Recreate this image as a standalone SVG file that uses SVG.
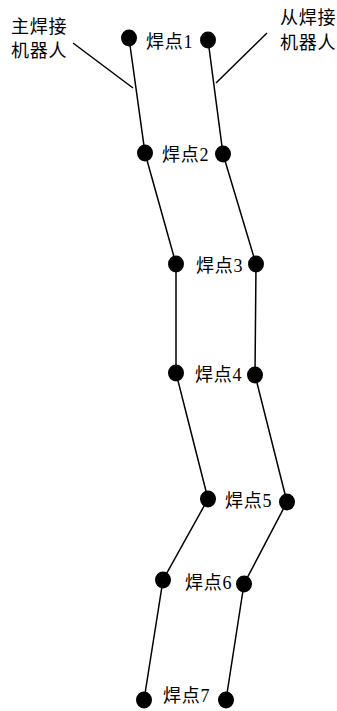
<svg xmlns="http://www.w3.org/2000/svg" width="337" height="711" viewBox="0 0 337 711">
<style>
.bg{fill:#fff}
.ln{stroke:#000;stroke-width:1.5;fill:none}
.dot{fill:#000}
.t{font-family:"Liberation Serif","Noto Sans CJK SC",serif;font-size:18px;fill:#000;letter-spacing:0.8px}
</style>
<rect class="bg" x="0" y="0" width="337" height="711"/>
<g id="connectors">
<polyline class="ln" points="129,38 145,153 176,264 176,373 208,499 163,580 144,700"/>
<polyline class="ln" points="208,40 223,154 256,264 255,375 287,502 244,584 226,700"/>
<line class="ln" x1="73" y1="43" x2="133" y2="88"/>
<line class="ln" x1="267" y1="33" x2="216" y2="83"/>
</g>
<g id="master-robot-label">
<text class="t" x="11" y="33">主焊接</text>
<text class="t" x="11" y="57">机器人</text>
</g>
<g id="slave-robot-label">
<text class="t" x="280" y="24">从焊接</text>
<text class="t" x="280" y="49">机器人</text>
</g>
<g id="L1"><ellipse class="dot" cx="129" cy="38" rx="8" ry="8.5"/></g>
<g id="L2"><ellipse class="dot" cx="145" cy="153" rx="8" ry="8.5"/></g>
<g id="L3"><ellipse class="dot" cx="176" cy="264" rx="8" ry="8.5"/></g>
<g id="L4"><ellipse class="dot" cx="176" cy="373" rx="8" ry="8.5"/></g>
<g id="L5"><ellipse class="dot" cx="208" cy="499" rx="8" ry="8.5"/></g>
<g id="L6"><ellipse class="dot" cx="163" cy="580" rx="8" ry="8.5"/></g>
<g id="L7"><ellipse class="dot" cx="144" cy="700" rx="8" ry="8.5"/></g>
<g id="R1"><ellipse class="dot" cx="208" cy="40" rx="8" ry="8.5"/></g>
<g id="R2"><ellipse class="dot" cx="223" cy="154" rx="8" ry="8.5"/></g>
<g id="R3"><ellipse class="dot" cx="256" cy="264" rx="8" ry="8.5"/></g>
<g id="R4"><ellipse class="dot" cx="255" cy="375" rx="8" ry="8.5"/></g>
<g id="R5"><ellipse class="dot" cx="287" cy="502" rx="8" ry="8.5"/></g>
<g id="R6"><ellipse class="dot" cx="244" cy="584" rx="8" ry="8.5"/></g>
<g id="R7"><ellipse class="dot" cx="226" cy="700" rx="8" ry="8.5"/></g>
<g id="labels">
<text class="t" x="146" y="48">焊点1</text>
<text class="t" x="162" y="161">焊点2</text>
<text class="t" x="196" y="272">焊点3</text>
<text class="t" x="195" y="381">焊点4</text>
<text class="t" x="225" y="507">焊点5</text>
<text class="t" x="185" y="589">焊点6</text>
<text class="t" x="163" y="702">焊点7</text>
</g>
</svg>
